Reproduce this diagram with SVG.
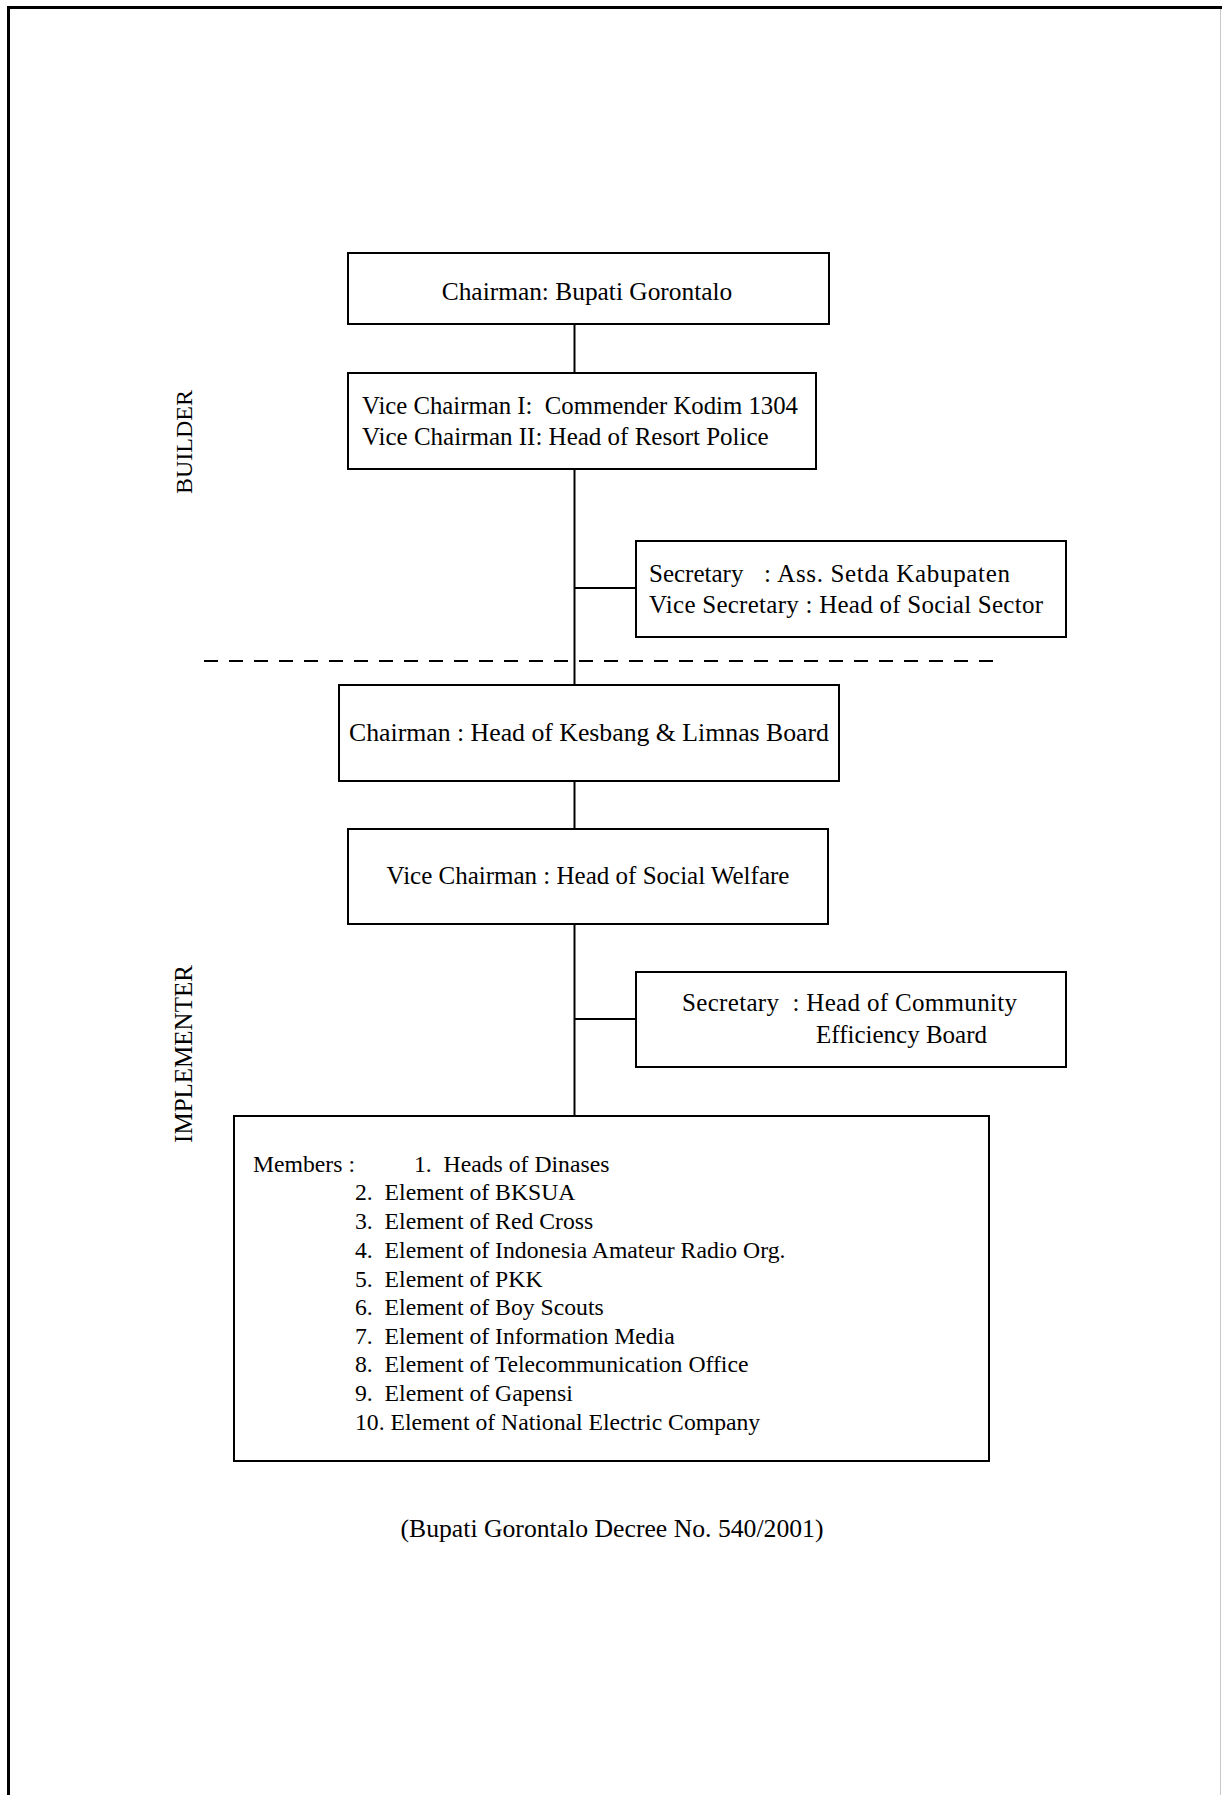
<svg xmlns="http://www.w3.org/2000/svg" width="1222" height="1795" viewBox="0 0 1222 1795">
  <style>
    .box { fill: #fff; stroke: #000; stroke-width: 2; }
    .t { font-family: "Liberation Serif", "Times New Roman", serif; font-size: 25px; fill: #000; }
    .m { font-family: "Liberation Serif", "Times New Roman", serif; font-size: 23.7px; fill: #000; }
    .c { text-anchor: middle; }
    .wire { stroke: #000; stroke-width: 2; fill: none; }
  </style>
  <rect width="1222" height="1795" fill="#fff"/>

  <!-- page frame -->
  <g id="frame">
    <line x1="7" y1="7.5" x2="1222" y2="7.5" stroke="#000" stroke-width="3"/>
    <line x1="8.5" y1="6" x2="8.5" y2="1795" stroke="#000" stroke-width="3"/>
    <line x1="1220.5" y1="9" x2="1220.5" y2="1795" stroke="#c8c8c8" stroke-width="1"/>
  </g>

  <!-- side labels -->
  <g id="side-labels">
    <text class="t c" transform="translate(192,442) rotate(-90)" style="font-size:24px">BUILDER</text>
    <text class="t c" transform="translate(192,1054) rotate(-90)">IMPLEMENTER</text>
  </g>

  <!-- connectors -->
  <g id="connectors">
    <line class="wire" x1="574.5" y1="324" x2="574.5" y2="373"/>
    <line class="wire" x1="574.5" y1="469" x2="574.5" y2="685"/>
    <line class="wire" x1="574.5" y1="588" x2="636" y2="588"/>
    <line class="wire" x1="574.5" y1="781" x2="574.5" y2="829"/>
    <line class="wire" x1="574.5" y1="924" x2="574.5" y2="1116"/>
    <line class="wire" x1="574.5" y1="1019" x2="636" y2="1019"/>
    <line x1="204" y1="661" x2="996" y2="661" stroke="#000" stroke-width="2" stroke-dasharray="14 11"/>
  </g>

  <g id="chairman">
    <rect class="box" x="348" y="253" width="481" height="71"/>
    <text class="t c" x="587" y="300" style="font-size:25.4px">Chairman: Bupati Gorontalo</text>
  </g>

  <g id="vice-chairmen">
    <rect class="box" x="348" y="373" width="468" height="96"/>
    <text class="t" x="362" y="414" xml:space="preserve" textLength="436" lengthAdjust="spacingAndGlyphs">Vice Chairman I:  Commender Kodim 1304</text>
    <text class="t" x="362" y="445">Vice Chairman II: Head of Resort Police</text>
  </g>

  <g id="secretary-builder">
    <rect class="box" x="636" y="541" width="430" height="96"/>
    <text class="t" x="649" y="582">Secretary</text>
    <text class="t" x="764" y="582" textLength="246" lengthAdjust="spacing">: Ass. Setda Kabupaten</text>
    <text class="t" x="649" y="613" textLength="394" lengthAdjust="spacing">Vice Secretary : Head of Social Sector</text>
  </g>

  <g id="chairman-kesbang">
    <rect class="box" x="339" y="685" width="500" height="96"/>
    <text class="t c" x="589" y="741" textLength="480" lengthAdjust="spacingAndGlyphs">Chairman : Head of Kesbang &amp; Limnas Board</text>
  </g>

  <g id="vice-chairman-welfare">
    <rect class="box" x="348" y="829" width="480" height="95"/>
    <text class="t c" x="588" y="884">Vice Chairman : Head of Social Welfare</text>
  </g>

  <g id="secretary-implementer">
    <rect class="box" x="636" y="972" width="430" height="95"/>
    <text class="t" x="682" y="1011" xml:space="preserve" textLength="335" lengthAdjust="spacing">Secretary  : Head of Community</text>
    <text class="t" x="816" y="1043">Efficiency Board</text>
  </g>

  <g id="members">
    <rect class="box" x="234" y="1116" width="755" height="345"/>
    <text class="m" x="253" y="1172">Members :</text>
    <text class="m" x="414" y="1172" xml:space="preserve">1.  Heads of Dinases</text>
    <text class="m" x="355" y="1200" xml:space="preserve">2.  Element of BKSUA</text>
    <text class="m" x="355" y="1229" xml:space="preserve">3.  Element of Red Cross</text>
    <text class="m" x="355" y="1258" xml:space="preserve">4.  Element of Indonesia Amateur Radio Org.</text>
    <text class="m" x="355" y="1287" xml:space="preserve">5.  Element of PKK</text>
    <text class="m" x="355" y="1315" xml:space="preserve">6.  Element of Boy Scouts</text>
    <text class="m" x="355" y="1344" xml:space="preserve">7.  Element of Information Media</text>
    <text class="m" x="355" y="1372" xml:space="preserve">8.  Element of Telecommunication Office</text>
    <text class="m" x="355" y="1401" xml:space="preserve">9.  Element of Gapensi</text>
    <text class="m" x="355" y="1430">10. Element of National Electric Company</text>
  </g>

  <text id="source" class="t c" x="612" y="1537" style="font-size:25.7px">(Bupati Gorontalo Decree No. 540/2001)</text>
</svg>
